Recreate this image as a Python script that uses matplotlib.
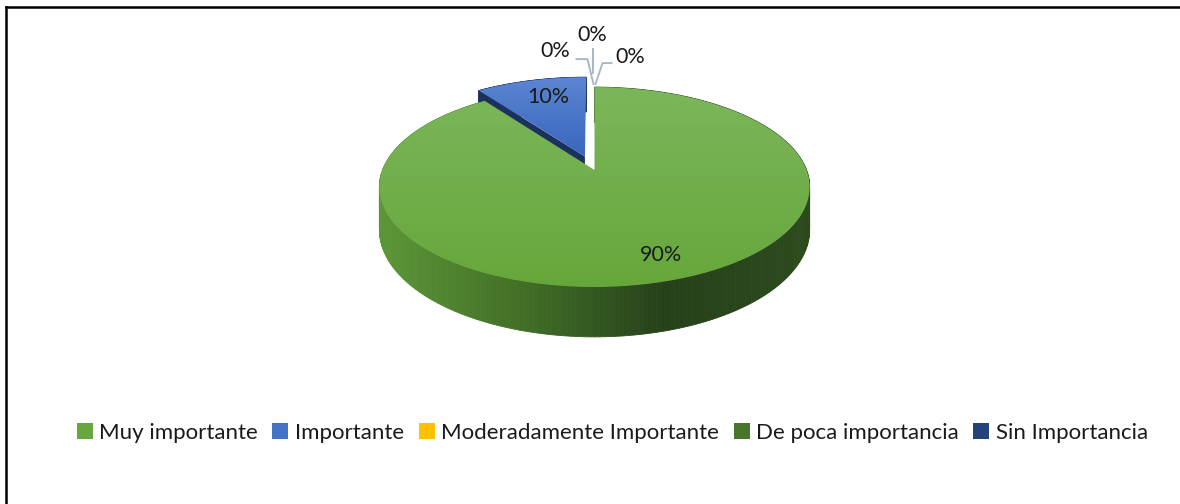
import numpy as np
import matplotlib.pyplot as plt
from matplotlib.patches import Polygon, Patch
from matplotlib.colors import LinearSegmentedColormap
from matplotlib.lines import Line2D

plt.rcParams['font.family'] = ['Lato', 'DejaVu Sans']

# data
categories = ["Muy importante", "Importante", "Moderadamente Importante",
              "De poca importancia", "Sin Importancia"]
values = [90, 10, 0, 0, 0]
explode = [0.0, 0.15, 0.0, 0.0, 0.0]
legend_colors = ["#66a83e", "#4472c4", "#ffc000", "#47752a", "#24427a"]

# top face gradient (top, bottom) and side colours per slice
top_colors = {0: ("#7cb65b", "#66a73b"), 1: ("#5b86d2", "#3a66be")}
side_colors = {0: ["#5c9636", "#426f27", "#26411a", "#2c4b1c"], 1: ["#1c325e", "#203866"]}

# geometry of the 3D pie in pixels
CX, CY = 594.5, 170.0
RX, RY = 212.0, 97.0
K = 0.17        # perspective strength
DEPTH = 41.5


def project(X, Y, Z=0.0):
    f = 1.0 / (1.0 + K * np.asarray(Y))
    return CX + RX * np.asarray(X) * f, CY - RY * np.asarray(Y) * f + DEPTH * Z * f


fig = plt.figure(figsize=(11.8, 5.04), dpi=100)
ax = fig.add_axes([0, 0, 1, 1])
ax.set_xlim(0, 1180)
ax.set_ylim(504, 0)
ax.axis('off')

total = sum(values)
angles = np.cumsum([0] + [v / total * 360 for v in values])


def gradient_fill(poly_xy, c_top, c_bot, zorder):
    poly = Polygon(poly_xy, closed=True, facecolor='none', edgecolor='none')
    ax.add_patch(poly)
    y0, y1 = poly_xy[:, 1].min(), poly_xy[:, 1].max()
    x0, x1 = poly_xy[:, 0].min(), poly_xy[:, 0].max()
    cmap = LinearSegmentedColormap.from_list('g', [c_top, c_bot])
    grad = np.linspace(0, 1, 256).reshape(-1, 1)
    im = ax.imshow(grad, cmap=cmap, extent=(x0, x1, y1, y0), aspect='auto',
                   zorder=zorder, interpolation='bilinear')
    im.set_clip_path(poly)


def draw_slice(i, z):
    a0, a1 = np.radians(angles[i]), np.radians(angles[i + 1])
    mid = (a0 + a1) / 2
    ox, oy = explode[i] * np.sin(mid), explode[i] * np.cos(mid)
    th = np.linspace(a0, a1, 300)
    X, Y = ox + np.sin(th), oy + np.cos(th)
    # outer rim side, coloured by screen x
    cmap = LinearSegmentedColormap.from_list('s', side_colors[i])
    xt, yt = project(X, Y, 0)
    xb, yb = project(X, Y, 1)
    for j in range(len(th) - 1):
        q = [(xt[j], yt[j]), (xt[j + 1], yt[j + 1]), (xb[j + 1], yb[j + 1]), (xb[j], yb[j])]
        c = cmap((xt[j] - 380) / (810 - 380))
        ax.add_patch(Polygon(q, closed=True, facecolor=c, edgecolor=c, lw=0.6, zorder=z))
    # radial side face at the start angle (visible for the exploded slice)
    if explode[i] > 0:
        tx, ty = project(ox, oy, 0)
        bx, by = project(ox, oy, 1)
        q = [(tx, ty), (xt[0], yt[0]), (xb[0], yb[0]), (bx, by)]
        ax.add_patch(Polygon(q, closed=True, facecolor=side_colors[i][0],
                             edgecolor='none', zorder=z + 0.1))
    # top face
    cx_, cy_ = project(ox, oy, 0)
    top = np.vstack([[cx_, cy_], np.column_stack([xt, yt])])
    gradient_fill(top, top_colors[i][0], top_colors[i][1], z + 0.2)


# back slice first, then main slice
draw_slice(1, 1)
draw_slice(0, 2)

# data labels
pct = [f"{v:.0f}%" for v in values]
mid0 = np.radians((angles[0] + angles[1]) / 2)
lx, ly = project(0.8 * np.sin(mid0), 0.8 * np.cos(mid0))
ax.text(lx + 6, ly, pct[0], ha='center', va='center', fontsize=15.5, color='#1a1a1a', zorder=5)
mid1 = np.radians((angles[1] + angles[2]) / 2)
ox, oy = explode[1] * np.sin(mid1), explode[1] * np.cos(mid1)
lx, ly = project(ox + 0.75 * np.sin(mid1), oy + 0.75 * np.cos(mid1))
ax.text(lx + 5, ly - 1, pct[1], ha='center', va='center', fontsize=15.5, color='#1a1a1a', zorder=5)

# zero slices: labels pulled outside with leader lines
anchor_x, anchor_y = project(0, 1, 0)
label_offsets = [(-38, -36), (-1, -52), (37, -30)]
leader_paths = [[(21, 8), (32, 8), (38, 33)],
                [(0, 14), (0, 38)],
                [(-19, 6), (-28, 6), (-35, 27)]]
for k, i in enumerate([2, 3, 4]):
    dx, dy = label_offsets[k]
    tx, ty = anchor_x - 1 + dx, anchor_y + dy
    ax.text(tx, ty, pct[i], ha='center', va='center', fontsize=15.5, color='#1a1a1a', zorder=5)
    pts = np.array(leader_paths[k]) + [tx, ty]
    ax.plot(pts[:, 0], pts[:, 1], color='#a9b7c9', lw=1.4, zorder=4)

# legend
handles = [Patch(facecolor=c, edgecolor='none') for c in legend_colors]
fig.legend(handles, categories, loc='center', bbox_to_anchor=(0.519, 0.141), ncol=5,
           frameon=False, fontsize=16, handlelength=0.72, handleheight=0.72,
           handletextpad=0.3, columnspacing=0.65, labelcolor='#1a1a1a')

# partial frame (top and left only)
fig.add_artist(Line2D([6 / 1180, 1], [1 - 7 / 504] * 2, color='black', lw=1.8,
                      transform=fig.transFigure))
fig.add_artist(Line2D([6 / 1180] * 2, [1 - 7 / 504, 0], color='black', lw=1.8,
                      transform=fig.transFigure))

fig.savefig('out.png', dpi=100, facecolor='white')
